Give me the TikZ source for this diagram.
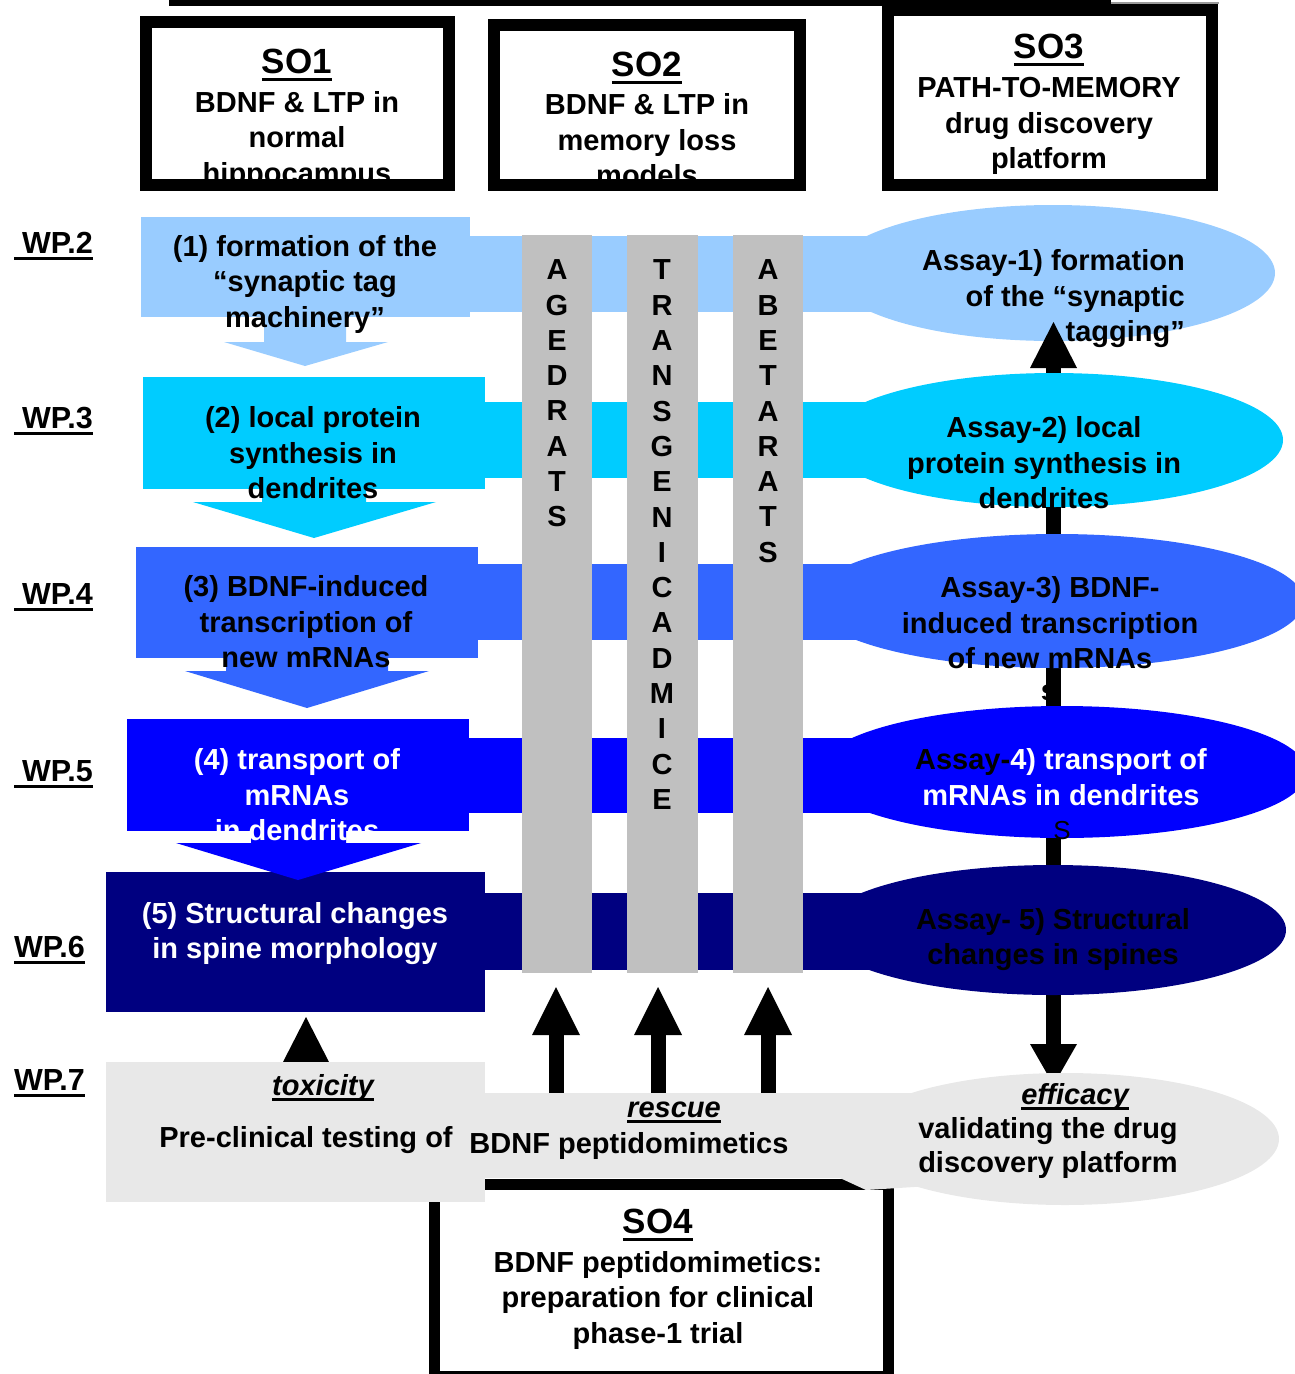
\documentclass[tikz,border=0pt]{standalone}
\usepackage{fontspec}
\setmainfont{Liberation Sans}
\usetikzlibrary{shapes.geometric}
\definecolor{rowa}{HTML}{99CCFF}
\definecolor{rowb}{HTML}{00CCFF}
\definecolor{rowc}{HTML}{3366FF}
\definecolor{rowd}{HTML}{0000FF}
\definecolor{rowe}{HTML}{000080}
\definecolor{bargray}{HTML}{C0C0C0}
\definecolor{lgray}{HTML}{E8E8E8}
\newcommand{\myul}[1]{\setbox0\hbox{#1}\rlap{\rule[-6pt]{\wd0}{2.6pt}}\box0}
\newcommand{\myulb}[1]{\setbox0\hbox{#1}\rlap{\rule[-7pt]{\wd0}{3pt}}\box0}
\begin{document}
\begin{tikzpicture}[x=1pt,y=-1pt,
  txt/.style={font=\fontsize{29}{35.5}\selectfont\bfseries, align=center, inner sep=0pt},
  wplbl/.style={font=\fontsize{30.5}{35.5}\selectfont\bfseries, inner sep=0pt, anchor=west},
  ttl/.style={font=\fontsize{35}{40}\selectfont\bfseries, inner sep=0pt},
  barlbl/.style={font=\fontsize{29}{35.3}\selectfont\bfseries, align=center, inner sep=0pt},
  itl/.style={font=\fontsize{29}{35.5}\selectfont\bfseries\itshape, inner sep=0pt, anchor=base},
  soframe/.style={draw=black, line width=12pt},
  ell/.style={ellipse, inner sep=0pt},
  shaft/.style={line width=15pt},
]
\useasboundingbox (0,0) rectangle (1294,1374);
% top rule
\fill[black] (169,0) rectangle (1111,6);
\draw[black!40, line width=2pt] (1111,3) -- (1219,3);

% SO boxes
\fill[white] (140,16) rectangle (455,191);
\node[ttl] (so1t) at (297,65) {\myulb{SO1}};
\node[txt] (so1b) at (297,140) {BDNF \& LTP in\\normal\\hippocampus};
\draw[soframe] (146,22) rectangle (449,185);

\fill[white] (488,19) rectangle (806,191);
\node[ttl] (so2t) at (647,68) {\myulb{SO2}};
\node[txt] (so2b) at (647,140) {BDNF \& LTP in\\memory loss\\models};
\draw[soframe] (494,25) rectangle (800,185);

\fill[white] (882,4) rectangle (1218,191);
\node[ttl] (so3t) at (1049,50) {\myulb{SO3}};
\node[txt] (so3b) at (1049,126) {PATH-TO-MEMORY\\drug discovery\\platform};
\draw[soframe] (888,10) rectangle (1212,185);

% bands
\fill[rowa] (465,236) rectangle (1000,312);
\fill[rowb] (480,402) rectangle (1000,478);
\fill[rowc] (474,564) rectangle (1000,640);
\fill[rowd] (465,738) rectangle (1000,813);
\fill[rowe] (480,893) rectangle (1000,970);

% grey bars
\fill[bargray] (522,235) rectangle (592,973);
\fill[bargray] (627,235) rectangle (698,973);
\fill[bargray] (733,235) rectangle (803,973);
\node[barlbl] (agedrats) at (557,393.5) {A\\G\\E\\D\\R\\A\\T\\S};
\node[barlbl] (transgenic) at (662,534.7) {T\\R\\A\\N\\S\\G\\E\\N\\I\\C\\A\\D\\M\\I\\C\\E};
\node[barlbl] (abetarats) at (768,411.2) {A\\B\\E\\T\\A\\R\\A\\T\\S};

% row boxes
\fill[rowa] (141,217) rectangle (470,317);
\fill[rowb] (143,377) rectangle (485,489);
\fill[rowc] (136,547) rectangle (478,658);
\fill[rowd] (127,719) rectangle (469,831);
\fill[rowe] (106,872) rectangle (485,1012);
% row arrows
\fill[rowa] (264,316) -- (346,316) -- (346,342) -- (388,342) -- (305,366) -- (224,342) -- (264,342) -- cycle;
\fill[rowb] (262,488) -- (366,488) -- (366,502) -- (436,502) -- (314,538) -- (193,502) -- (262,502) -- cycle;
\fill[rowc] (226,657) -- (388,657) -- (388,671) -- (429,671) -- (307,708) -- (185,671) -- (226,671) -- cycle;
\fill[rowd] (251,830) -- (346,830) -- (346,843) -- (421,843) -- (298,880) -- (176,843) -- (251,843) -- cycle;
% row texts
\node[txt] (r1) at (305,284) {(1) formation of the\\“synaptic tag\\machinery”};
\node[txt] (r2) at (313,453) {(2) local protein\\synthesis in\\dendrites};
\node[txt] (r3) at (306,622) {(3) BDNF-induced\\transcription of\\new mRNAs};
\node[txt, text=white] (r4) at (297,795) {(4) transport of\\mRNAs\\in dendrites};
\node[txt, text=white] (r5) at (295,933.5) {(5) Structural changes\\in spine morphology};

% right column
\node[txt] (strays) at (1049,693) {s};
\coordinate (vtop) at (1053.5,368);
\coordinate (vbot) at (1053.5,1044);
\draw[shaft] (vtop) -- (vbot);
\node[ell, fill=rowa, minimum width=444pt, minimum height=136pt] (e1) at (1053,273) {};
\node[ell, fill=rowb, minimum width=458pt, minimum height=134pt] (e2) at (1054,440) {};
\node[ell, fill=rowc, minimum width=494pt, minimum height=134pt] (e3) at (1057,601) {};
\node[ell, fill=rowd, minimum width=490pt, minimum height=132pt] (e4) at (1062,772) {};
\node[ell, fill=rowe, minimum width=466pt, minimum height=130pt] (e5) at (1053,930) {};
\fill[black] (1030,368) -- (1077,368) -- (1053.5,322) -- cycle;
\node[txt, align=right, anchor=east] (e1t) at (1185,299) {Assay-1) formation\\of the “synaptic\\tagging”};
\node[txt] (e2t) at (1044,463) {Assay-2) local\\protein synthesis in\\dendrites};
\node[txt] (e3t) at (1050,623) {Assay-3) BDNF-\\induced transcription\\of new mRNAs};
\node[txt, text=white] (e4t) at (1061,777) {\textcolor{black}{Assay-}4) transport of\\mRNAs in dendrites};
\node[txt] (e5t) at (1053,939.5) {Assay- 5) Structural\\changes in spines};
\node[font=\fontsize{26}{30}\selectfont, inner sep=0pt] (strayS) at (1062,831) {S};

% WP labels
\node[wplbl] (wp2) at (14,246) {\myul{\hspace*{8pt}WP.2}};
\node[wplbl] (wp3) at (14,421) {\myul{\hspace*{8pt}WP.3}};
\node[wplbl] (wp4) at (14,597) {\myul{\hspace*{8pt}WP.4}};
\node[wplbl] (wp5) at (14,774) {\myul{\hspace*{8pt}WP.5}};
\node[wplbl] (wp6) at (14,950) {\myul{WP.6}};
\node[wplbl] (wp7) at (14,1083) {\myul{WP.7}};

% toxicity and rescue arrows
\fill[black] (283,1062) -- (329,1062) -- (306,1017) -- cycle;
\foreach \ax in {556,658,768} {
  \fill[black] (\ax-7.5,1034) rectangle (\ax+7.5,1094);
  \fill[black] (\ax-24,1035) -- (\ax+24,1035) -- (\ax,987) -- cycle;
}

% SO4
\fill[white] (429,1179) rectangle (893,1374);
\draw[black, line width=11pt] (434.5,1184) rectangle (888,1376);

% bottom grey shapes
\fill[lgray] (106,1062) rectangle (485,1202);
\fill[lgray] (485,1093) rectangle (1000,1178);
\fill[lgray] (840,1093) -- (870,1098) -- (930,1098) -- (930,1186) -- (866,1190) -- (840,1178) -- cycle;
\fill[black] (1030,1044) -- (1077,1044) -- (1053.5,1085) -- cycle;
\node[ell, fill=lgray, minimum width=428pt, minimum height=132pt] (e6) at (1065,1139) {};

\node[itl] (tox) at (323,1095) {\myul{toxicity}};
\node[txt, anchor=base] (pre) at (306,1147) {Pre-clinical testing of};
\node[itl] (resc) at (674,1117) {\myul{rescue}};
\node[txt, anchor=base] (bdnfp) at (629,1153) {BDNF peptidomimetics};
\node[itl] (eff) at (1075,1104) {\myul{efficacy}};
\node[txt, anchor=base] (val1) at (1048,1138) {validating the drug};
\node[txt, anchor=base] (val2) at (1048,1172) {discovery platform};

\node[ttl] (so4t) at (658,1225) {\myulb{SO4}};
\node[txt] (so4b) at (658,1300) {BDNF peptidomimetics:\\preparation for clinical\\phase-1 trial};
\end{tikzpicture}
\end{document}
